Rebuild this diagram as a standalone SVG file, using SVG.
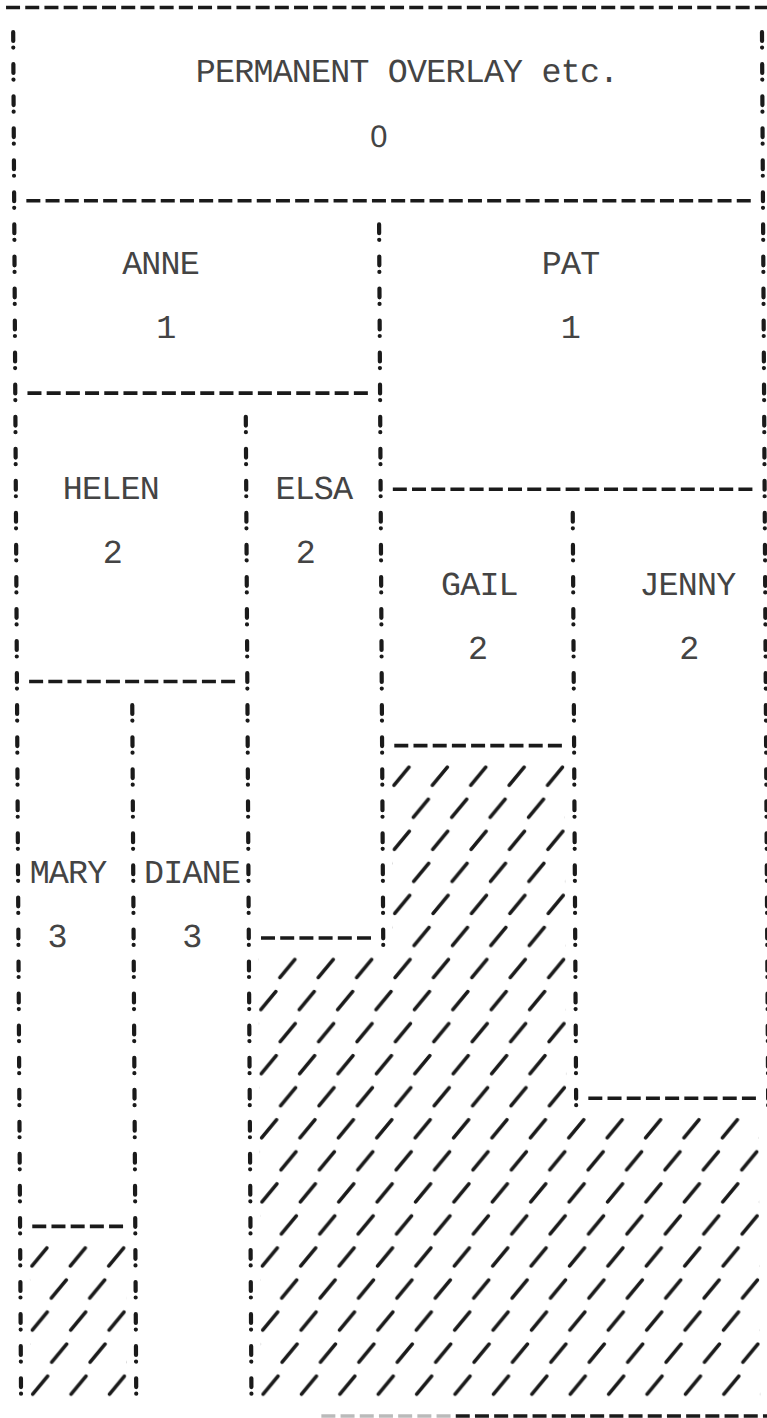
<svg xmlns="http://www.w3.org/2000/svg" width="767" height="1418" viewBox="0 0 767 1418">
<style>
.t{font-family:"Liberation Mono","Courier New",monospace;font-size:33.5px;letter-spacing:-0.9px;fill:#444;text-anchor:middle}
.z{font-family:"Liberation Sans",Arial,sans-serif;font-size:31px;fill:#444;text-anchor:middle}
.v{stroke:#1a1a1a;stroke-width:4.2;stroke-linecap:round;stroke-dasharray:8.8 6.6 0.01 16.64;fill:none}
.h{stroke:#1a1a1a;stroke-width:3.6;stroke-dasharray:14 5.2;fill:none}
.hl{stroke:#1a1a1a;stroke-opacity:0.3;stroke-width:3.6;stroke-dasharray:14 5.2;fill:none}
</style>
<defs>
<pattern id="hatch" patternUnits="userSpaceOnUse" x="3.4" y="-9.025" width="38.4" height="64.1">
<path d="M2.1,25.025 L17.1,7.025 M21.3,57.075 L36.3,39.075" stroke="#1a1a1a" stroke-width="3.6" stroke-linecap="round" fill="none"/>
</pattern>
</defs>
<rect width="767" height="1418" fill="#ffffff"/>
<g transform="skewX(0.33)">
<g id="unused-space">
<path d="M387.4,760.175 H560.2 V1112.725 H752.2 V1401.175 H253 V952.475 H387.4 Z" fill="url(#hatch)"/>
<rect x="22.6" y="1240.925" width="96" height="160.25" fill="url(#hatch)"/>
</g>
<g id="connectors">
<line class="h" x1="6" y1="7.5" x2="768.8" y2="7.5"/>
<line class="hl" x1="313.2" y1="1416" x2="442.4" y2="1416"/>
<line class="h" x1="447.6" y1="1416" x2="768.8" y2="1416"/>
<line class="v" x1="13" y1="32.15" x2="13" y2="1394.15"/>
<line class="v" x1="761.8" y1="32.15" x2="761.8" y2="1105.7"/>
<line class="v" x1="377.8" y1="224.45" x2="377.8" y2="945.45"/>
<line class="v" x1="243.4" y1="416.75" x2="243.4" y2="1394.15"/>
<line class="v" x1="128.2" y1="705.2" x2="128.2" y2="1394.15"/>
<line class="v" x1="569.8" y1="512.9" x2="569.8" y2="1105.7"/>
</g>
<g id="node-permanent">
<line class="h" x1="25.2" y1="200.8" x2="749.6" y2="200.8"/>
<text class="t" x="406.6" y="82.1">PERMANENT OVERLAY etc.</text>
<text class="z" x="378" y="147">0</text>
</g>
<g id="node-anne">
<line class="h" x1="25.2" y1="393.1" x2="365.6" y2="393.1"/>
<text class="t" x="159" y="274.4">ANNE</text>
<text class="t" x="164" y="338.5">1</text>
</g>
<g id="node-pat">
<line class="h" x1="390" y1="489.25" x2="749.6" y2="489.25"/>
<text class="t" x="569" y="274.4">PAT</text>
<text class="t" x="568.5" y="338.5">1</text>
</g>
<g id="node-helen">
<line class="h" x1="25.2" y1="681.55" x2="231.2" y2="681.55"/>
<text class="t" x="108" y="498.75">HELEN</text>
<text class="t" x="109" y="562.85">2</text>
</g>
<g id="node-elsa">
<line class="h" x1="255.6" y1="937.95" x2="365.6" y2="937.95"/>
<text class="t" x="311" y="498.75">ELSA</text>
<text class="t" x="302" y="562.85">2</text>
</g>
<g id="node-gail">
<line class="h" x1="390" y1="745.65" x2="557.6" y2="745.65"/>
<text class="t" x="476" y="594.9">GAIL</text>
<text class="t" x="473.8" y="659">2</text>
</g>
<g id="node-jenny">
<line class="h" x1="582" y1="1098.2" x2="749.6" y2="1098.2"/>
<text class="t" x="684" y="594.9">JENNY</text>
<text class="t" x="685" y="659">2</text>
</g>
<g id="node-mary">
<line class="h" x1="25.2" y1="1226.4" x2="116" y2="1226.4"/>
<text class="t" x="63" y="883.35">MARY</text>
<text class="t" x="51.6" y="947.45">3</text>
</g>
<g id="node-diane">
<text class="t" x="187" y="883.35">DIANE</text>
<text class="t" x="186.5" y="947.45">3</text>
</g>
</g>
</svg>
